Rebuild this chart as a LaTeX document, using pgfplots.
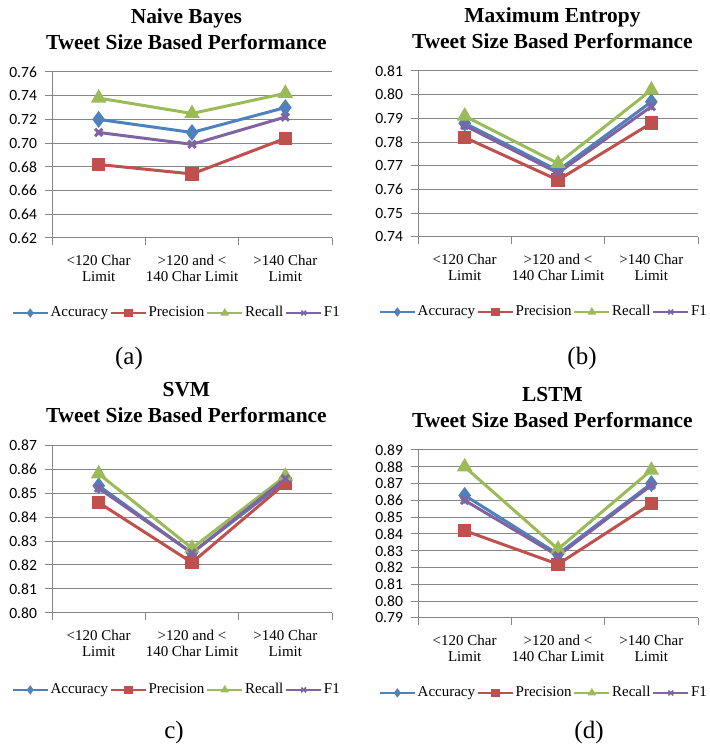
\documentclass[border=0pt]{standalone}
\usepackage{fontspec}
\setmainfont{Liberation Serif}
\newfontfamily\calib{Carlito}
\usepackage{pgfplots}
\usepackage{pgfplotstable}
\pgfplotsset{compat=1.18}
\definecolor{cacc}{HTML}{4F81BD}
\definecolor{cprec}{HTML}{C0504D}
\definecolor{crec}{HTML}{9BBB59}
\definecolor{cfone}{HTML}{8064A2}
\definecolor{gridgray}{HTML}{868686}

\pgfplotstableread{
x acc prec rec f1
1 0.720 0.682 0.738 0.709
2 0.709 0.674 0.725 0.699
3 0.730 0.704 0.742 0.722
}\tabA
\pgfplotstableread{
x acc prec rec f1
1 0.788 0.782 0.791 0.787
2 0.768 0.764 0.771 0.767
3 0.797 0.788 0.802 0.795
}\tabB
\pgfplotstableread{
x acc prec rec f1
1 0.853 0.846 0.858 0.852
2 0.825 0.821 0.827 0.825
3 0.855 0.854 0.857 0.856
}\tabC
\pgfplotstableread{
x acc prec rec f1
1 0.863 0.842 0.880 0.860
2 0.828 0.822 0.831 0.827
3 0.870 0.858 0.878 0.869
}\tabD

\pgfplotsset{
  myax/.style={
    scale only axis, width=140pt,
    xmin=0.5, xmax=3.5,
    axis x line=bottom, axis y line=left,
    axis line style={-, draw=gridgray, line width=0.5pt},
    ymajorgrids, grid style={draw=gridgray, line width=0.5pt},
    tick align=outside,
    tick style={draw=gridgray, line width=0.5pt},
    major tick length=3.5pt,
    xtick={0.5,1.5,2.5,3.5}, xticklabels={},
    extra x ticks={1,2,3},
    extra x tick labels={{<120 Char\\Limit},{>120 and <\\140 Char Limit},{>140 Char\\Limit}},
    extra x tick style={major tick length=0pt, grid=none,
      tick label style={align=center, yshift=-5pt}},
    x tick label style={font=\fontsize{7.5}{8}\selectfont, align=center},
    y tick label style={font=\calib\fontsize{7.8}{8}\selectfont, xshift=-0.5pt},
    /pgf/number format/assume math mode=true,
    yticklabel style={/pgf/number format/.cd, fixed, fixed zerofill, precision=2},
    title style={font=\bfseries\fontsize{10.7}{13}\selectfont, align=center,
      at={(0.48,1)}, anchor=south, inner sep=0pt, yshift=5pt},
    legend columns=4,
    legend style={draw=none, fill=none, font=\fontsize{7.5}{8}\selectfont,
      anchor=center, inner sep=0pt,
      /tikz/every even column/.append style={column sep=0pt},
      nodes={inner xsep=1pt}},
    legend image code/.code={\draw[mark repeat=2,mark phase=2,#1,line width=0.8pt,mark size=1.7pt]
      plot coordinates {(0pt,0pt)(8.75pt,0pt)(17.5pt,0pt)};},
    every axis plot/.append style={line width=1.5pt},
  },
  sacc/.style={color=cacc, mark=diamond*, mark size=3pt, mark options={solid, fill=cacc}},
  sprec/.style={color=cprec, mark=square*, mark size=2.6pt, mark options={solid, fill=cprec}},
  srec/.style={color=crec, mark=triangle*, mark size=3pt, mark options={solid, fill=crec}},
  sfone/.style={color=cfone, mark=x, mark size=2.6pt, mark options={solid}},
}

\newcommand{\fourplots}[1]{%
  \addplot[sacc] table[x=x,y=acc]{#1};
  \addplot[sprec] table[x=x,y=prec]{#1};
  \addplot[srec] table[x=x,y=rec]{#1};
  \addplot[sfone] table[x=x,y=f1]{#1};
  \legend{Accuracy,Precision,Recall,F1}
}

\begin{document}
\begin{tikzpicture}
\path[use as bounding box] (0,0) rectangle (355pt,374pt);

\begin{axis}[myax, at={(26pt,255pt)}, anchor=south west, height=83pt,
  ymin=0.62, ymax=0.76, ytick distance=0.02,
  title={Naive Bayes\\Tweet Size Based Performance},
  legend style={at={(0.446,-0.452)}}]
\fourplots{\tabA}
\end{axis}

\begin{axis}[myax, at={(209pt,255.5pt)}, anchor=south west, height=83pt,
  ymin=0.74, ymax=0.81, ytick distance=0.01,
  title={Maximum Entropy\\Tweet Size Based Performance},
  legend style={at={(0.45,-0.452)}}]
\fourplots{\tabB}
\end{axis}

\begin{axis}[myax, at={(26pt,67.5pt)}, anchor=south west, height=84pt,
  ymin=0.80, ymax=0.87, ytick distance=0.01,
  title={SVM\\Tweet Size Based Performance},
  legend style={at={(0.446,-0.458)}}]
\fourplots{\tabC}
\end{axis}

\begin{axis}[myax, at={(209pt,65pt)}, anchor=south west, height=84pt,
  ymin=0.79, ymax=0.89, ytick distance=0.01,
  title={LSTM\\Tweet Size Based Performance},
  legend style={at={(0.45,-0.446)}}]
\fourplots{\tabD}
\end{axis}

\node[font=\fontsize{12.5}{14}\selectfont] at (64.5pt,195pt) {(a)};
\node[font=\fontsize{12.5}{14}\selectfont] at (291pt,195pt) {(b)};
\node[font=\fontsize{12.5}{14}\selectfont] at (87pt,8pt) {c)};
\node[font=\fontsize{12.5}{14}\selectfont] at (294.5pt,8pt) {(d)};
\end{tikzpicture}
\end{document}
